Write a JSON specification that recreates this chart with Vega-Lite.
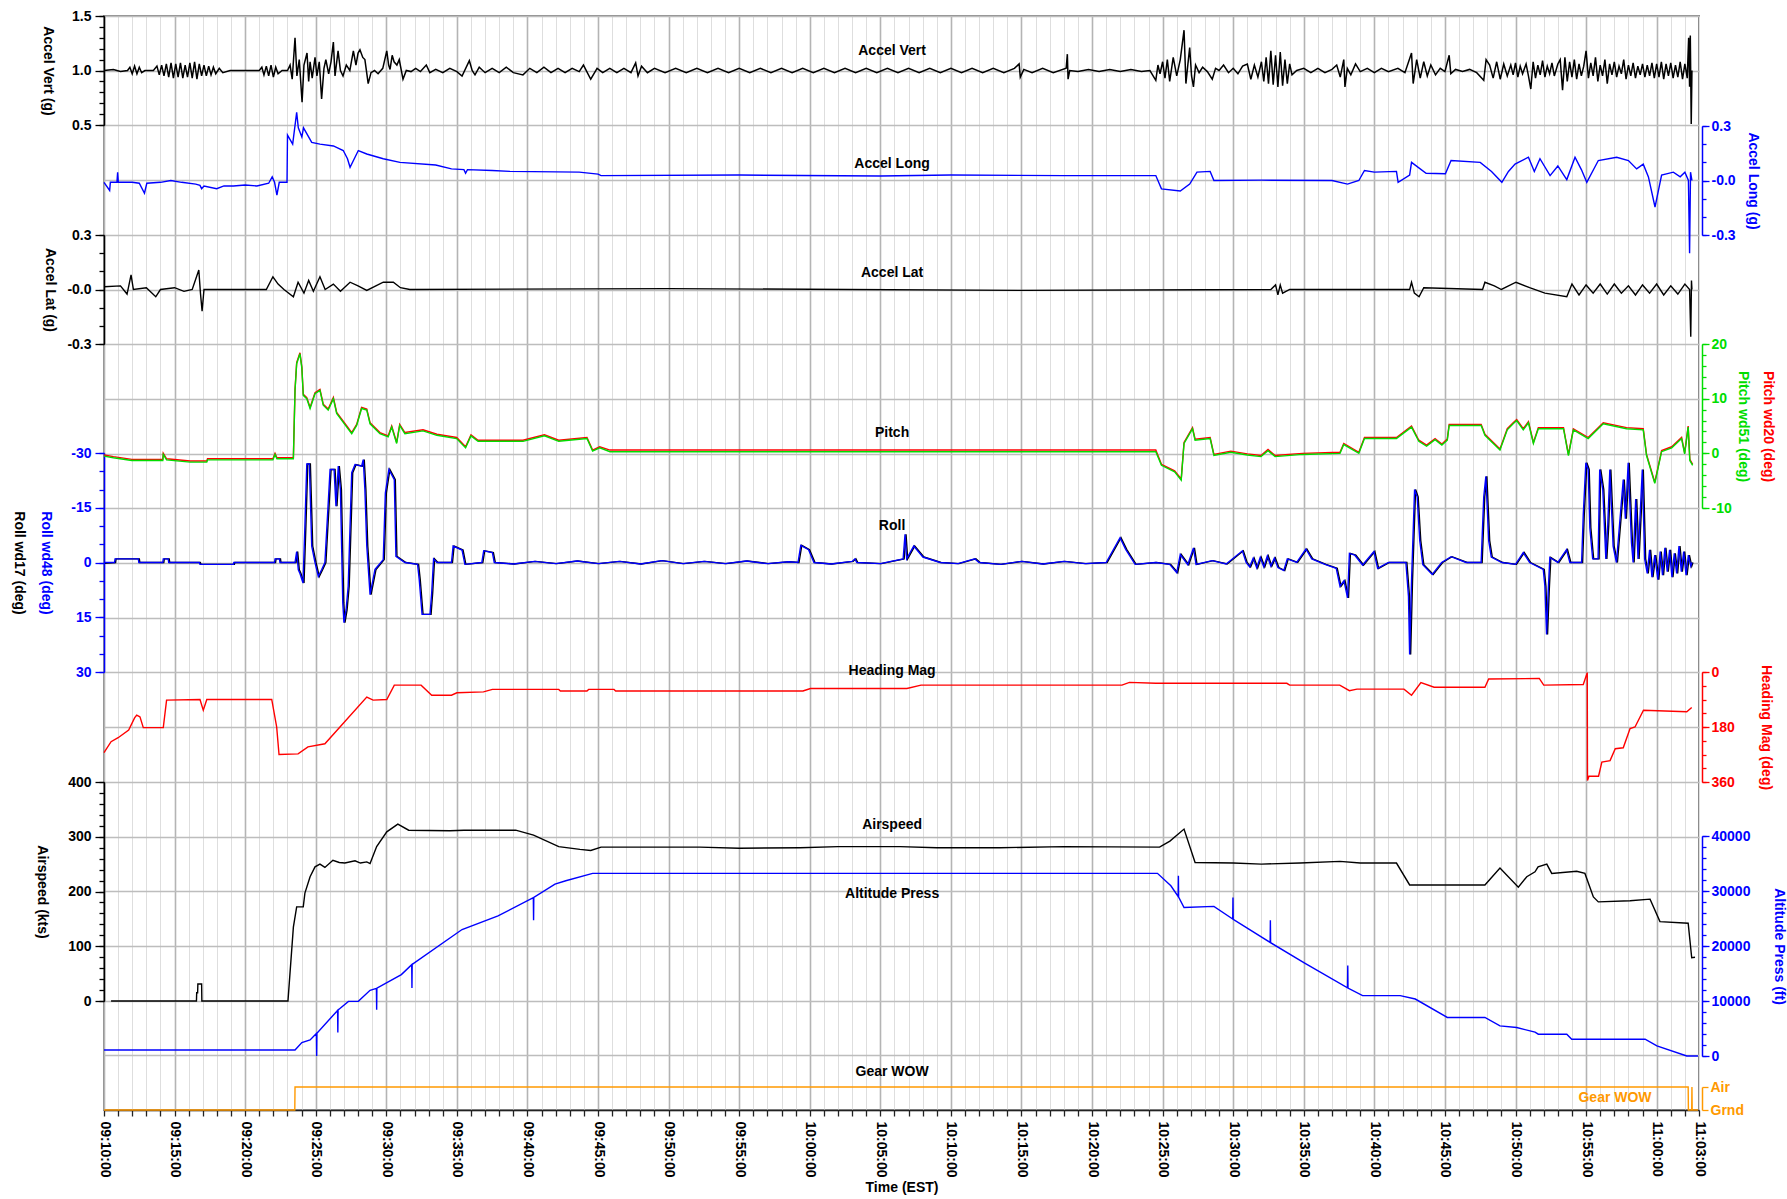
{
"$schema":"https://vega.github.io/schema/vega-lite/v6.json",
"width":1595,"height":1094,
"autosize":{"type":"none"},
"padding":{"left":104,"top":16,"right":88,"bottom":89},
"background":"white",
"config":{
 "font":"Liberation Sans",
 "view":{"stroke":"#8c8c8c","strokeWidth":2},
 "axis":{"labelFont":"Liberation Sans","labelFontWeight":"bold","labelFontSize":14,"titleFont":"Liberation Sans","titleFontWeight":"bold","titleFontSize":14,"grid":false,"labelOverlap":false,"labelFlush":false,"tickWidth":1.3,"domainWidth":1.5},
 "line":{"strokeWidth":1.4},
 "text":{"font":"Liberation Sans","fontWeight":"bold","fontSize":14,"align":"center","baseline":"middle"}
},
"encoding":{"x":{"field":"t","type":"temporal",
 "scale":{"type":"utc","nice":false},
 "axis":{"orient":"bottom","tickCount":113,
  "labelExpr":"(utcminutes(datum.value) % 5 === 0 || (utchours(datum.value) === 11 && utcminutes(datum.value) === 3)) ? utcFormat(datum.value, '%H:%M:%S') : ''",
  "labelAngle":90,"labelAlign":"left","labelBaseline":"middle","labelPadding":5,"labelColor":"#000",
  "tickSize":6,"tickColor":"#222","domainColor":"#222",
  "grid":true,
  "gridColor":{"condition":{"test":"utcminutes(datum.value) % 5 === 0","value":"#b4b4b4"},"value":"#dedede"},
  "gridWidth":{"condition":{"test":"utcminutes(datum.value) % 5 === 0","value":1.6},"value":1},
  "title":"Time (EST)","titleColor":"#000","titleY":77,"titleBaseline":"middle"}}},
"layer":[
{"data":{"values":[{"t":"09:10:00"},{"t":"11:03:00"}],"format":{"parse":{"t":"utc:'%H:%M:%S'"}}},
 "mark":{"type":"point","opacity":0},
 "encoding":{"y":{"datum":0,"type":"quantitative","scale":{"domain":[0,20],"range":[1094,0],"nice":false,"zero":false},
  "axis":{"orient":"left","values":[0,1,2,3,4,5,6,7,8,9,10,11,12,13,14,15,16,17,18,19,20],"grid":true,"gridColor":"#bdbdbd","gridWidth":1.6,"labels":false,"ticks":false,"domain":false,"title":null}}}},
{"data":{"values":[{"t":"09:10:00","v":1.0},{"t":"09:10:40","v":1.01},{"t":"09:11:10","v":0.99},{"t":"09:11:40","v":1.0},{"t":"09:11:50","v":1.03},{"t":"09:12:00","v":0.97},{"t":"09:12:10","v":1.04},{"t":"09:12:20","v":0.97},{"t":"09:12:30","v":1.03},{"t":"09:12:40","v":0.98},{"t":"09:12:54","v":1.0},{"t":"09:13:30","v":1.0},{"t":"09:13:45","v":1.04},{"t":"09:13:55","v":0.96},{"t":"09:14:05","v":1.05},{"t":"09:14:15","v":0.95},{"t":"09:14:25","v":1.06},{"t":"09:14:35","v":0.94},{"t":"09:14:45","v":1.07},{"t":"09:14:55","v":0.93},{"t":"09:15:05","v":1.06},{"t":"09:15:15","v":0.94},{"t":"09:15:25","v":1.07},{"t":"09:15:35","v":0.93},{"t":"09:15:45","v":1.05},{"t":"09:15:55","v":0.94},{"t":"09:16:05","v":1.07},{"t":"09:16:15","v":0.93},{"t":"09:16:25","v":1.08},{"t":"09:16:35","v":0.92},{"t":"09:16:45","v":1.06},{"t":"09:16:55","v":0.95},{"t":"09:17:05","v":1.05},{"t":"09:17:15","v":0.95},{"t":"09:17:25","v":1.04},{"t":"09:17:35","v":0.96},{"t":"09:17:45","v":1.03},{"t":"09:17:55","v":0.97},{"t":"09:18:10","v":1.02},{"t":"09:18:25","v":0.98},{"t":"09:18:56","v":1.0},{"t":"09:21:00","v":1.0},{"t":"09:21:11","v":1.03},{"t":"09:21:20","v":0.96},{"t":"09:21:30","v":1.04},{"t":"09:21:40","v":0.95},{"t":"09:21:50","v":1.05},{"t":"09:22:00","v":0.94},{"t":"09:22:10","v":1.03},{"t":"09:22:20","v":0.97},{"t":"09:22:37","v":1.0},{"t":"09:23:00","v":1.0},{"t":"09:23:11","v":1.05},{"t":"09:23:20","v":0.92},{"t":"09:23:32","v":1.3},{"t":"09:23:40","v":0.95},{"t":"09:23:50","v":1.1},{"t":"09:24:02","v":0.71},{"t":"09:24:10","v":1.05},{"t":"09:24:23","v":1.16},{"t":"09:24:30","v":0.9},{"t":"09:24:36","v":1.08},{"t":"09:24:45","v":0.93},{"t":"09:24:57","v":1.12},{"t":"09:25:05","v":0.95},{"t":"09:25:15","v":1.08},{"t":"09:25:25","v":0.74},{"t":"09:25:35","v":1.02},{"t":"09:25:43","v":1.1},{"t":"09:25:55","v":0.97},{"t":"09:26:05","v":1.08},{"t":"09:26:15","v":1.26},{"t":"09:26:22","v":0.95},{"t":"09:26:35","v":1.18},{"t":"09:26:45","v":1.0},{"t":"09:26:56","v":0.95},{"t":"09:27:10","v":1.05},{"t":"09:27:25","v":1.0},{"t":"09:27:40","v":1.18},{"t":"09:27:51","v":1.05},{"t":"09:28:00","v":1.16},{"t":"09:28:08","v":1.19},{"t":"09:28:20","v":1.12},{"t":"09:28:29","v":1.1},{"t":"09:28:43","v":0.88},{"t":"09:28:55","v":0.98},{"t":"09:29:10","v":1.0},{"t":"09:29:25","v":0.97},{"t":"09:29:45","v":1.02},{"t":"09:30:02","v":1.18},{"t":"09:30:10","v":1.05},{"t":"09:30:16","v":1.01},{"t":"09:30:25","v":1.14},{"t":"09:30:33","v":1.08},{"t":"09:30:45","v":1.05},{"t":"09:30:55","v":1.1},{"t":"09:31:11","v":0.92},{"t":"09:31:25","v":1.0},{"t":"09:31:45","v":0.99},{"t":"09:32:05","v":1.02},{"t":"09:32:25","v":0.99},{"t":"09:32:50","v":1.05},{"t":"09:33:05","v":0.98},{"t":"09:33:30","v":1.01},{"t":"09:34:00","v":0.98},{"t":"09:34:30","v":1.02},{"t":"09:35:00","v":0.99},{"t":"09:35:22","v":0.95},{"t":"09:35:53","v":1.09},{"t":"09:36:05","v":1.0},{"t":"09:36:17","v":0.96},{"t":"09:36:35","v":1.03},{"t":"09:37:00","v":0.98},{"t":"09:37:30","v":1.02},{"t":"09:38:00","v":0.98},{"t":"09:38:30","v":1.03},{"t":"09:39:00","v":0.98},{"t":"09:39:41","v":0.96},{"t":"09:40:10","v":1.02},{"t":"09:40:40","v":0.98},{"t":"09:41:10","v":1.03},{"t":"09:41:40","v":0.98},{"t":"09:42:10","v":1.02},{"t":"09:42:40","v":0.98},{"t":"09:43:10","v":1.02},{"t":"09:43:40","v":0.99},{"t":"09:43:58","v":1.05},{"t":"09:44:29","v":0.92},{"t":"09:44:56","v":1.02},{"t":"09:45:20","v":0.98},{"t":"09:45:50","v":1.02},{"t":"09:46:20","v":0.98},{"t":"09:46:50","v":1.02},{"t":"09:47:20","v":0.98},{"t":"09:47:40","v":1.07},{"t":"09:47:50","v":0.95},{"t":"09:48:05","v":1.04},{"t":"09:48:30","v":0.98},{"t":"09:49:00","v":1.02},{"t":"09:49:45","v":0.98},{"t":"09:50:30","v":1.02},{"t":"09:51:15","v":0.98},{"t":"09:52:00","v":1.02},{"t":"09:52:45","v":0.98},{"t":"09:53:30","v":1.02},{"t":"09:54:15","v":0.98},{"t":"09:55:00","v":1.02},{"t":"09:55:45","v":0.98},{"t":"09:56:30","v":1.02},{"t":"09:57:15","v":0.98},{"t":"09:58:00","v":1.02},{"t":"09:58:45","v":0.98},{"t":"09:59:30","v":1.02},{"t":"10:00:15","v":0.98},{"t":"10:01:00","v":1.02},{"t":"10:01:45","v":0.98},{"t":"10:02:30","v":1.02},{"t":"10:03:15","v":0.98},{"t":"10:04:00","v":1.02},{"t":"10:04:45","v":0.98},{"t":"10:05:30","v":1.02},{"t":"10:06:15","v":0.98},{"t":"10:07:00","v":1.02},{"t":"10:07:45","v":0.98},{"t":"10:08:30","v":1.02},{"t":"10:09:15","v":0.98},{"t":"10:10:00","v":1.02},{"t":"10:10:45","v":0.98},{"t":"10:11:30","v":1.02},{"t":"10:12:15","v":0.98},{"t":"10:13:00","v":1.02},{"t":"10:13:45","v":0.98},{"t":"10:14:30","v":1.02},{"t":"10:14:50","v":1.06},{"t":"10:14:55","v":0.94},{"t":"10:15:10","v":1.01},{"t":"10:15:45","v":0.98},{"t":"10:16:30","v":1.02},{"t":"10:17:15","v":0.98},{"t":"10:18:10","v":1.02},{"t":"10:18:15","v":1.15},{"t":"10:18:18","v":0.92},{"t":"10:18:25","v":1.0},{"t":"10:19:00","v":0.99},{"t":"10:19:45","v":1.01},{"t":"10:20:30","v":0.99},{"t":"10:21:15","v":1.01},{"t":"10:22:00","v":0.99},{"t":"10:22:45","v":1.01},{"t":"10:23:30","v":0.99},{"t":"10:24:06","v":1.0},{"t":"10:24:31","v":0.91},{"t":"10:24:40","v":1.05},{"t":"10:24:49","v":0.97},{"t":"10:25:00","v":1.08},{"t":"10:25:10","v":0.93},{"t":"10:25:20","v":1.1},{"t":"10:25:30","v":0.9},{"t":"10:25:45","v":1.12},{"t":"10:26:00","v":0.95},{"t":"10:26:15","v":1.1},{"t":"10:26:31","v":1.37},{"t":"10:26:39","v":0.88},{"t":"10:26:47","v":1.05},{"t":"10:26:55","v":1.21},{"t":"10:27:03","v":0.95},{"t":"10:27:11","v":0.85},{"t":"10:27:20","v":1.05},{"t":"10:27:35","v":0.98},{"t":"10:27:50","v":1.03},{"t":"10:28:10","v":0.99},{"t":"10:28:31","v":0.92},{"t":"10:28:45","v":1.02},{"t":"10:29:00","v":1.0},{"t":"10:29:19","v":1.05},{"t":"10:29:40","v":0.98},{"t":"10:30:00","v":1.02},{"t":"10:30:20","v":0.97},{"t":"10:30:40","v":1.04},{"t":"10:31:00","v":1.06},{"t":"10:31:15","v":0.92},{"t":"10:31:30","v":1.05},{"t":"10:31:45","v":0.94},{"t":"10:32:00","v":1.08},{"t":"10:32:10","v":0.9},{"t":"10:32:20","v":1.12},{"t":"10:32:30","v":0.88},{"t":"10:32:40","v":1.18},{"t":"10:32:50","v":0.87},{"t":"10:33:00","v":1.14},{"t":"10:33:10","v":0.85},{"t":"10:33:20","v":1.17},{"t":"10:33:30","v":0.86},{"t":"10:33:40","v":1.1},{"t":"10:33:50","v":0.88},{"t":"10:34:00","v":1.06},{"t":"10:34:10","v":0.96},{"t":"10:34:30","v":1.0},{"t":"10:35:00","v":1.02},{"t":"10:35:30","v":0.98},{"t":"10:36:00","v":1.02},{"t":"10:36:30","v":0.98},{"t":"10:37:00","v":1.01},{"t":"10:37:20","v":1.05},{"t":"10:37:35","v":0.94},{"t":"10:37:50","v":1.1},{"t":"10:37:55","v":0.85},{"t":"10:38:05","v":1.02},{"t":"10:38:20","v":0.96},{"t":"10:38:40","v":1.06},{"t":"10:39:00","v":0.99},{"t":"10:39:30","v":1.02},{"t":"10:40:00","v":0.98},{"t":"10:40:30","v":1.02},{"t":"10:41:00","v":0.99},{"t":"10:41:40","v":1.02},{"t":"10:42:10","v":0.98},{"t":"10:42:38","v":1.16},{"t":"10:42:45","v":0.88},{"t":"10:43:00","v":1.1},{"t":"10:43:15","v":0.93},{"t":"10:43:30","v":1.08},{"t":"10:43:45","v":0.95},{"t":"10:44:00","v":1.05},{"t":"10:44:20","v":0.96},{"t":"10:44:40","v":1.02},{"t":"10:45:00","v":0.99},{"t":"10:45:18","v":1.14},{"t":"10:45:25","v":0.97},{"t":"10:45:45","v":1.01},{"t":"10:46:15","v":0.99},{"t":"10:46:45","v":1.01},{"t":"10:47:15","v":0.98},{"t":"10:47:45","v":0.91},{"t":"10:47:55","v":1.1},{"t":"10:48:10","v":1.05},{"t":"10:48:25","v":0.93},{"t":"10:48:40","v":1.08},{"t":"10:48:55","v":0.92},{"t":"10:49:10","v":1.06},{"t":"10:49:25","v":0.95},{"t":"10:49:40","v":1.05},{"t":"10:49:50","v":0.96},{"t":"10:50:00","v":1.07},{"t":"10:50:10","v":0.94},{"t":"10:50:20","v":1.04},{"t":"10:50:30","v":0.97},{"t":"10:50:45","v":1.06},{"t":"10:50:55","v":0.95},{"t":"10:51:05","v":0.83},{"t":"10:51:15","v":1.08},{"t":"10:51:25","v":0.93},{"t":"10:51:35","v":1.05},{"t":"10:51:45","v":0.96},{"t":"10:51:55","v":1.09},{"t":"10:52:05","v":0.94},{"t":"10:52:15","v":1.04},{"t":"10:52:25","v":0.97},{"t":"10:52:35","v":1.07},{"t":"10:52:45","v":0.95},{"t":"10:53:00","v":1.06},{"t":"10:53:10","v":1.1},{"t":"10:53:20","v":0.82},{"t":"10:53:30","v":1.12},{"t":"10:53:40","v":0.9},{"t":"10:53:50","v":1.08},{"t":"10:54:00","v":0.94},{"t":"10:54:10","v":1.1},{"t":"10:54:20","v":0.92},{"t":"10:54:30","v":1.06},{"t":"10:54:40","v":0.95},{"t":"10:54:50","v":1.04},{"t":"10:55:00","v":1.18},{"t":"10:55:10","v":0.93},{"t":"10:55:20","v":1.07},{"t":"10:55:30","v":0.95},{"t":"10:55:40","v":1.12},{"t":"10:55:50","v":0.9},{"t":"10:56:00","v":1.05},{"t":"10:56:10","v":0.95},{"t":"10:56:20","v":1.1},{"t":"10:56:30","v":0.88},{"t":"10:56:40","v":1.06},{"t":"10:56:50","v":0.96},{"t":"10:57:00","v":1.08},{"t":"10:57:10","v":0.94},{"t":"10:57:20","v":1.04},{"t":"10:57:30","v":0.97},{"t":"10:57:40","v":1.1},{"t":"10:57:50","v":0.92},{"t":"10:58:00","v":1.05},{"t":"10:58:10","v":0.95},{"t":"10:58:20","v":1.07},{"t":"10:58:30","v":0.93},{"t":"10:58:40","v":1.04},{"t":"10:58:50","v":0.96},{"t":"10:59:00","v":1.06},{"t":"10:59:10","v":0.94},{"t":"10:59:20","v":1.05},{"t":"10:59:30","v":0.95},{"t":"10:59:40","v":1.07},{"t":"10:59:50","v":0.93},{"t":"11:00:00","v":1.06},{"t":"11:00:10","v":0.94},{"t":"11:00:20","v":1.08},{"t":"11:00:30","v":0.92},{"t":"11:00:40","v":1.06},{"t":"11:00:50","v":0.95},{"t":"11:01:00","v":1.07},{"t":"11:01:10","v":0.93},{"t":"11:01:20","v":1.05},{"t":"11:01:30","v":0.94},{"t":"11:01:40","v":1.08},{"t":"11:01:50","v":0.92},{"t":"11:02:00","v":1.06},{"t":"11:02:10","v":0.93},{"t":"11:02:16","v":1.3},{"t":"11:02:20","v":0.85},{"t":"11:02:23","v":1.32},{"t":"11:02:27","v":0.51},{"t":"11:02:30","v":1.0}],"format":{"parse":{"t":"utc:'%H:%M:%S'"}}},
 "mark":{"type":"line","color":"#000","strokeWidth":1.5},
 "encoding":{"y":{"field":"v","type":"quantitative","scale":{"domain":[0.5,1.5],"range":[109,0],"nice":false,"zero":false},
  "axis":{"orient":"left","values":[0.5,0.6,0.7,0.8,0.9,1.0,1.1,1.2,1.3,1.4,1.5],"labels":false,
   "tickSize":5,"tickColor":"#000","domainColor":"#000",
   "title":"Accel Vert (g)","titleColor":"#000","titleX":-57,"titleAngle":90,"titleAlign":"center","titleBaseline":"middle"}}}},
{"data":{"values":[{"t":"10:05:50","v":1.18,"label":"Accel Vert"}],"format":{"parse":{"t":"utc:'%H:%M:%S'"}}},
 "mark":{"type":"text","color":"#000"},
 "encoding":{"y":{"field":"v","type":"quantitative","scale":{"domain":[0.5,1.5],"range":[109,0],"nice":false,"zero":false},
  "axis":{"orient":"left","values":[0.5,1.0,1.5],"labelExpr":"format(datum.value,'.1f')","tickSize":9,"tickColor":"#000","domain":false,"labelColor":"#000","labelPadding":4,"title":null}},"text":{"field":"label"}}},
{"data":{"values":[{"t":"09:10:00","v":-0.01},{"t":"09:10:24","v":-0.055},{"t":"09:10:27","v":-0.01},{"t":"09:10:55","v":-0.01},{"t":"09:10:58","v":0.045},{"t":"09:11:01","v":-0.01},{"t":"09:12:00","v":-0.01},{"t":"09:12:30","v":-0.015},{"t":"09:12:52","v":-0.07},{"t":"09:13:02","v":-0.015},{"t":"09:14:00","v":-0.01},{"t":"09:14:44","v":0.0},{"t":"09:15:30","v":-0.01},{"t":"09:16:30","v":-0.02},{"t":"09:16:48","v":-0.027},{"t":"09:16:55","v":-0.045},{"t":"09:17:05","v":-0.03},{"t":"09:17:59","v":-0.045},{"t":"09:18:30","v":-0.03},{"t":"09:19:10","v":-0.03},{"t":"09:20:00","v":-0.025},{"t":"09:20:50","v":-0.03},{"t":"09:21:40","v":-0.015},{"t":"09:21:55","v":0.02},{"t":"09:22:05","v":-0.01},{"t":"09:22:15","v":-0.08},{"t":"09:22:25","v":-0.01},{"t":"09:22:58","v":-0.01},{"t":"09:23:00","v":0.25},{"t":"09:23:22","v":0.2},{"t":"09:23:39","v":0.375},{"t":"09:23:46","v":0.29},{"t":"09:24:01","v":0.24},{"t":"09:24:08","v":0.29},{"t":"09:24:43","v":0.21},{"t":"09:25:18","v":0.2},{"t":"09:26:15","v":0.19},{"t":"09:26:57","v":0.165},{"t":"09:27:15","v":0.12},{"t":"09:27:26","v":0.073},{"t":"09:28:01","v":0.165},{"t":"09:28:37","v":0.146},{"t":"09:29:47","v":0.12},{"t":"09:30:58","v":0.1},{"t":"09:33:30","v":0.085},{"t":"09:34:37","v":0.064},{"t":"09:35:30","v":0.06},{"t":"09:35:37","v":0.04},{"t":"09:35:45","v":0.06},{"t":"09:37:30","v":0.055},{"t":"09:38:45","v":0.05},{"t":"09:43:40","v":0.046},{"t":"09:45:00","v":0.035},{"t":"09:45:13","v":0.027},{"t":"09:55:00","v":0.03},{"t":"10:05:00","v":0.025},{"t":"10:10:00","v":0.03},{"t":"10:18:00","v":0.027},{"t":"10:24:31","v":0.027},{"t":"10:24:55","v":-0.046},{"t":"10:26:15","v":-0.058},{"t":"10:26:55","v":-0.02},{"t":"10:27:26","v":0.046},{"t":"10:28:22","v":0.05},{"t":"10:28:38","v":0.0},{"t":"10:32:00","v":0.002},{"t":"10:37:00","v":0.0},{"t":"10:38:06","v":-0.02},{"t":"10:38:54","v":0.0},{"t":"10:39:18","v":0.055},{"t":"10:40:00","v":0.046},{"t":"10:41:34","v":0.05},{"t":"10:41:41","v":-0.01},{"t":"10:42:30","v":0.03},{"t":"10:42:38","v":0.1},{"t":"10:43:40","v":0.04},{"t":"10:45:02","v":0.037},{"t":"10:45:26","v":0.11},{"t":"10:47:30","v":0.1},{"t":"10:48:18","v":0.05},{"t":"10:49:02","v":-0.01},{"t":"10:49:30","v":0.05},{"t":"10:49:58","v":0.09},{"t":"10:50:55","v":0.128},{"t":"10:51:20","v":0.05},{"t":"10:51:44","v":0.12},{"t":"10:52:27","v":0.027},{"t":"10:53:00","v":0.08},{"t":"10:53:38","v":0.005},{"t":"10:54:13","v":0.128},{"t":"10:54:40","v":0.06},{"t":"10:55:03","v":-0.01},{"t":"10:55:52","v":0.11},{"t":"10:57:10","v":0.128},{"t":"10:58:00","v":0.11},{"t":"10:58:35","v":0.064},{"t":"10:59:03","v":0.09},{"t":"10:59:25","v":0.02},{"t":"10:59:53","v":-0.146},{"t":"11:00:21","v":0.03},{"t":"11:01:11","v":0.046},{"t":"11:01:40","v":0.02},{"t":"11:02:00","v":0.045},{"t":"11:02:15","v":0.0},{"t":"11:02:20","v":-0.4},{"t":"11:02:24","v":0.046},{"t":"11:02:30","v":0.0}],"format":{"parse":{"t":"utc:'%H:%M:%S'"}}},
 "mark":{"type":"line","color":"#0000ff"},
 "encoding":{"y":{"field":"v","type":"quantitative","scale":{"domain":[-0.3,0.3],"range":[219,110],"nice":false,"zero":false},
  "axis":{"orient":"right","offset":3,"values":[-0.3,-0.2,-0.1,0,0.1,0.2,0.3],"labels":false,
   "tickSize":4,"tickColor":"#0000ff","domainColor":"#0000ff",
   "title":"Accel Long (g)","titleColor":"#0000ff","titleX":50,"titleAngle":90,"titleAlign":"center","titleBaseline":"middle"}}}},
{"data":{"values":[{"t":"10:05:50","v":0.093,"label":"Accel Long"}],"format":{"parse":{"t":"utc:'%H:%M:%S'"}}},
 "mark":{"type":"text","color":"#000"},
 "encoding":{"y":{"field":"v","type":"quantitative","scale":{"domain":[-0.3,0.3],"range":[219,110],"nice":false,"zero":false},
  "axis":{"orient":"right","offset":3,"values":[-0.3,0,0.3],"labelExpr":"datum.value === 0 ? '-0.0' : (datum.value < 0 ? '-0.3' : '0.3')","tickSize":7,"tickColor":"#0000ff","domain":false,"labelColor":"#0000ff","labelPadding":2,"title":null}},"text":{"field":"label"}}},
{"data":{"values":[{"t":"09:10:00","v":0.015},{"t":"09:11:10","v":0.02},{"t":"09:11:38","v":-0.025},{"t":"09:11:55","v":0.08},{"t":"09:12:05","v":0.0},{"t":"09:13:00","v":0.01},{"t":"09:13:40","v":-0.04},{"t":"09:14:00","v":0.0},{"t":"09:15:00","v":0.01},{"t":"09:15:40","v":-0.01},{"t":"09:16:15","v":0.0},{"t":"09:16:43","v":0.107},{"t":"09:16:50","v":-0.02},{"t":"09:16:57","v":-0.12},{"t":"09:17:05","v":0.0},{"t":"09:18:00","v":0.0},{"t":"09:21:30","v":0.0},{"t":"09:21:58","v":0.07},{"t":"09:22:20","v":0.03},{"t":"09:22:45","v":0.0},{"t":"09:23:25","v":-0.04},{"t":"09:23:45","v":0.04},{"t":"09:24:10","v":-0.02},{"t":"09:24:30","v":0.05},{"t":"09:24:50","v":-0.01},{"t":"09:25:18","v":0.07},{"t":"09:25:40","v":0.0},{"t":"09:26:15","v":0.03},{"t":"09:26:45","v":-0.01},{"t":"09:27:26","v":0.04},{"t":"09:28:00","v":0.02},{"t":"09:28:37","v":-0.005},{"t":"09:29:47","v":0.04},{"t":"09:30:30","v":0.04},{"t":"09:31:00","v":0.01},{"t":"09:31:40","v":0.0},{"t":"09:50:00","v":0.005},{"t":"10:15:00","v":-0.005},{"t":"10:32:40","v":0.0},{"t":"10:33:00","v":0.025},{"t":"10:33:10","v":-0.03},{"t":"10:33:20","v":0.025},{"t":"10:33:30","v":-0.02},{"t":"10:34:00","v":0.0},{"t":"10:42:30","v":0.0},{"t":"10:42:38","v":0.04},{"t":"10:42:50","v":-0.02},{"t":"10:43:10","v":-0.04},{"t":"10:43:30","v":0.01},{"t":"10:47:40","v":0.0},{"t":"10:47:50","v":0.04},{"t":"10:48:30","v":0.02},{"t":"10:49:00","v":0.0},{"t":"10:50:02","v":0.04},{"t":"10:51:00","v":0.01},{"t":"10:52:05","v":-0.02},{"t":"10:53:38","v":-0.04},{"t":"10:54:00","v":0.03},{"t":"10:54:30","v":-0.03},{"t":"10:55:00","v":0.025},{"t":"10:55:30","v":-0.02},{"t":"10:56:00","v":0.03},{"t":"10:56:30","v":-0.025},{"t":"10:57:00","v":0.03},{"t":"10:57:30","v":-0.02},{"t":"10:58:00","v":0.02},{"t":"10:58:30","v":-0.03},{"t":"10:59:00","v":0.025},{"t":"10:59:30","v":-0.02},{"t":"11:00:00","v":0.03},{"t":"11:00:30","v":-0.03},{"t":"11:01:00","v":0.02},{"t":"11:01:30","v":-0.025},{"t":"11:02:00","v":0.03},{"t":"11:02:20","v":0.0},{"t":"11:02:25","v":-0.26},{"t":"11:02:28","v":0.05},{"t":"11:02:30","v":0.0}],"format":{"parse":{"t":"utc:'%H:%M:%S'"}}},
 "mark":{"type":"line","color":"#000"},
 "encoding":{"y":{"field":"v","type":"quantitative","scale":{"domain":[-0.3,0.3],"range":[328,219],"nice":false,"zero":false},
  "axis":{"orient":"left","values":[-0.3,-0.2,-0.1,0,0.1,0.2,0.3],"labels":false,
   "tickSize":5,"tickColor":"#000","domainColor":"#000",
   "title":"Accel Lat (g)","titleColor":"#000","titleX":-55,"titleAngle":90,"titleAlign":"center","titleBaseline":"middle"}}}},
{"data":{"values":[{"t":"10:05:50","v":0.09,"label":"Accel Lat"}],"format":{"parse":{"t":"utc:'%H:%M:%S'"}}},
 "mark":{"type":"text","color":"#000"},
 "encoding":{"y":{"field":"v","type":"quantitative","scale":{"domain":[-0.3,0.3],"range":[328,219],"nice":false,"zero":false},
  "axis":{"orient":"left","values":[-0.3,0,0.3],"labelExpr":"datum.value === 0 ? '-0.0' : (datum.value < 0 ? '-0.3' : '0.3')","tickSize":9,"tickColor":"#000","domain":false,"labelColor":"#000","labelPadding":4,"title":null}},"text":{"field":"label"}}},
{"data":{"values":[{"t":"09:10:00","v":-0.3},{"t":"09:10:40","v":-0.6},{"t":"09:11:58","v":-1.1},{"t":"09:14:10","v":-1.1},{"t":"09:14:12","v":0.0},{"t":"09:14:26","v":-1.0},{"t":"09:16:06","v":-1.4},{"t":"09:17:17","v":-1.4},{"t":"09:17:20","v":-1.0},{"t":"09:21:58","v":-1.0},{"t":"09:22:07","v":0.0},{"t":"09:22:15","v":-0.8},{"t":"09:23:25","v":-0.8},{"t":"09:23:32","v":11.7},{"t":"09:23:39","v":16.6},{"t":"09:23:53","v":18.4},{"t":"09:24:01","v":15.8},{"t":"09:24:07","v":10.8},{"t":"09:24:22","v":10.2},{"t":"09:24:36","v":8.4},{"t":"09:24:57","v":11.1},{"t":"09:25:18","v":11.7},{"t":"09:25:32","v":9.0},{"t":"09:25:53","v":8.1},{"t":"09:26:15","v":10.2},{"t":"09:26:29","v":7.5},{"t":"09:27:12","v":5.0},{"t":"09:27:33","v":3.8},{"t":"09:27:54","v":5.3},{"t":"09:28:15","v":8.4},{"t":"09:28:37","v":8.1},{"t":"09:28:51","v":5.6},{"t":"09:29:33","v":3.8},{"t":"09:30:08","v":3.2},{"t":"09:30:23","v":5.0},{"t":"09:30:44","v":2.0},{"t":"09:30:57","v":5.3},{"t":"09:31:19","v":3.8},{"t":"09:32:36","v":4.3},{"t":"09:33:35","v":3.5},{"t":"09:34:59","v":2.9},{"t":"09:35:37","v":1.2},{"t":"09:36:00","v":3.4},{"t":"09:36:30","v":2.4},{"t":"09:39:41","v":2.4},{"t":"09:41:12","v":3.4},{"t":"09:42:13","v":2.4},{"t":"09:44:13","v":2.9},{"t":"09:44:37","v":0.6},{"t":"09:45:07","v":1.2},{"t":"09:45:51","v":0.6},{"t":"10:24:31","v":0.6},{"t":"10:24:55","v":-2.0},{"t":"10:25:51","v":-3.2},{"t":"10:26:19","v":-4.7},{"t":"10:26:31","v":2.0},{"t":"10:26:55","v":3.8},{"t":"10:27:07","v":4.7},{"t":"10:27:18","v":2.6},{"t":"10:28:22","v":2.9},{"t":"10:28:38","v":-0.2},{"t":"10:29:50","v":0.4},{"t":"10:31:00","v":-0.1},{"t":"10:31:58","v":-0.4},{"t":"10:32:28","v":0.7},{"t":"10:32:58","v":-0.4},{"t":"10:34:55","v":0.0},{"t":"10:37:34","v":0.2},{"t":"10:37:50","v":1.8},{"t":"10:38:54","v":0.2},{"t":"10:39:18","v":2.9},{"t":"10:41:34","v":2.9},{"t":"10:42:38","v":5.0},{"t":"10:43:09","v":2.4},{"t":"10:43:42","v":1.5},{"t":"10:44:18","v":2.7},{"t":"10:44:47","v":1.7},{"t":"10:45:10","v":2.6},{"t":"10:45:18","v":5.3},{"t":"10:47:34","v":5.3},{"t":"10:47:50","v":3.5},{"t":"10:48:54","v":0.8},{"t":"10:49:25","v":4.5},{"t":"10:49:50","v":5.6},{"t":"10:50:05","v":6.2},{"t":"10:50:33","v":4.5},{"t":"10:50:55","v":5.8},{"t":"10:51:16","v":2.0},{"t":"10:51:37","v":4.7},{"t":"10:53:24","v":4.7},{"t":"10:53:45","v":-0.2},{"t":"10:54:06","v":4.5},{"t":"10:55:09","v":2.9},{"t":"10:56:13","v":5.6},{"t":"10:57:52","v":4.7},{"t":"10:59:03","v":4.5},{"t":"10:59:17","v":-0.2},{"t":"10:59:52","v":-5.3},{"t":"11:00:21","v":0.5},{"t":"11:01:04","v":1.2},{"t":"11:01:46","v":2.9},{"t":"11:01:59","v":0.1},{"t":"11:02:14","v":5.0},{"t":"11:02:21","v":-1.1},{"t":"11:02:33","v":-2.0}],"format":{"parse":{"t":"utc:'%H:%M:%S'"}}},
 "mark":{"type":"line","color":"#ff0000"},
 "encoding":{"y":{"field":"v","type":"quantitative","scale":{"domain":[-10,20],"range":[492,328],"nice":false,"zero":false},
  "axis":{"orient":"right","offset":3,"labels":false,"ticks":false,"domain":false,
   "title":"Pitch wd20 (deg)","titleColor":"#ff0000","titleX":65,"titleAngle":90,"titleAlign":"center","titleBaseline":"middle"}}}},
{"data":{"values":[{"t":"09:10:00","v":-0.5},{"t":"09:10:40","v":-0.8},{"t":"09:11:58","v":-1.3},{"t":"09:14:10","v":-1.3},{"t":"09:14:12","v":-0.2},{"t":"09:14:26","v":-1.2},{"t":"09:16:06","v":-1.6},{"t":"09:17:17","v":-1.6},{"t":"09:17:20","v":-1.2},{"t":"09:21:58","v":-1.2},{"t":"09:22:07","v":-0.2},{"t":"09:22:15","v":-1.0},{"t":"09:23:25","v":-1.0},{"t":"09:23:32","v":11.5},{"t":"09:23:39","v":16.4},{"t":"09:23:53","v":18.2},{"t":"09:24:01","v":15.6},{"t":"09:24:07","v":10.6},{"t":"09:24:22","v":10.0},{"t":"09:24:36","v":8.2},{"t":"09:24:57","v":10.9},{"t":"09:25:18","v":11.5},{"t":"09:25:32","v":8.8},{"t":"09:25:53","v":7.9},{"t":"09:26:15","v":10.0},{"t":"09:26:29","v":7.3},{"t":"09:27:12","v":4.8},{"t":"09:27:33","v":3.6},{"t":"09:27:54","v":5.1},{"t":"09:28:15","v":8.2},{"t":"09:28:37","v":7.9},{"t":"09:28:51","v":5.4},{"t":"09:29:33","v":3.6},{"t":"09:30:08","v":3.0},{"t":"09:30:23","v":4.8},{"t":"09:30:44","v":1.8},{"t":"09:30:57","v":5.1},{"t":"09:31:19","v":3.6},{"t":"09:32:36","v":4.1},{"t":"09:33:35","v":3.3},{"t":"09:34:59","v":2.7},{"t":"09:35:37","v":1.0},{"t":"09:36:00","v":3.2},{"t":"09:36:30","v":2.2},{"t":"09:39:41","v":2.2},{"t":"09:41:12","v":3.2},{"t":"09:42:13","v":2.2},{"t":"09:44:13","v":2.7},{"t":"09:44:37","v":0.4},{"t":"09:45:07","v":1.0},{"t":"09:45:51","v":0.3},{"t":"10:24:31","v":0.3},{"t":"10:24:55","v":-2.2},{"t":"10:25:51","v":-3.4},{"t":"10:26:19","v":-4.9},{"t":"10:26:31","v":1.8},{"t":"10:26:55","v":3.6},{"t":"10:27:07","v":4.5},{"t":"10:27:18","v":2.4},{"t":"10:28:22","v":2.7},{"t":"10:28:38","v":-0.4},{"t":"10:29:50","v":0.2},{"t":"10:31:00","v":-0.3},{"t":"10:31:58","v":-0.6},{"t":"10:32:28","v":0.5},{"t":"10:32:58","v":-0.6},{"t":"10:34:55","v":-0.2},{"t":"10:37:34","v":0},{"t":"10:37:50","v":1.6},{"t":"10:38:54","v":0},{"t":"10:39:18","v":2.7},{"t":"10:41:34","v":2.7},{"t":"10:42:38","v":4.8},{"t":"10:43:09","v":2.2},{"t":"10:43:42","v":1.3},{"t":"10:44:18","v":2.5},{"t":"10:44:47","v":1.5},{"t":"10:45:10","v":2.4},{"t":"10:45:18","v":5.1},{"t":"10:47:34","v":5.1},{"t":"10:47:50","v":3.3},{"t":"10:48:54","v":0.6},{"t":"10:49:25","v":4.3},{"t":"10:49:50","v":5.4},{"t":"10:50:05","v":6.0},{"t":"10:50:33","v":4.3},{"t":"10:50:55","v":5.6},{"t":"10:51:16","v":1.8},{"t":"10:51:37","v":4.5},{"t":"10:53:24","v":4.5},{"t":"10:53:45","v":-0.4},{"t":"10:54:06","v":4.3},{"t":"10:55:09","v":2.7},{"t":"10:56:13","v":5.4},{"t":"10:57:52","v":4.5},{"t":"10:59:03","v":4.3},{"t":"10:59:17","v":-0.4},{"t":"10:59:52","v":-5.5},{"t":"11:00:21","v":0.3},{"t":"11:01:04","v":1.0},{"t":"11:01:46","v":2.7},{"t":"11:01:59","v":-0.1},{"t":"11:02:14","v":4.8},{"t":"11:02:21","v":-1.3},{"t":"11:02:33","v":-2.2}],"format":{"parse":{"t":"utc:'%H:%M:%S'"}}},
 "mark":{"type":"line","color":"#00dd00"},
 "encoding":{"y":{"field":"v","type":"quantitative","scale":{"domain":[-10,20],"range":[492,328],"nice":false,"zero":false},
  "axis":{"orient":"right","offset":3,"values":[-10,-8,-6,-4,-2,0,2,4,6,8,10,12,14,16,18,20],"labels":false,
   "tickSize":4,"tickColor":"#00dd00","domainColor":"#00dd00",
   "title":"Pitch wd51 (deg)","titleColor":"#00dd00","titleX":40,"titleAngle":90,"titleAlign":"center","titleBaseline":"middle"}}}},
{"data":{"values":[{"t":"10:05:50","v":3.8,"label":"Pitch"}],"format":{"parse":{"t":"utc:'%H:%M:%S'"}}},
 "mark":{"type":"text","color":"#000"},
 "encoding":{"y":{"field":"v","type":"quantitative","scale":{"domain":[-10,20],"range":[492,328],"nice":false,"zero":false},
  "axis":{"orient":"right","offset":3,"values":[-10,0,10,20],"labelExpr":"'' + datum.value","tickSize":7,"tickColor":"#00dd00","domain":false,"labelColor":"#00dd00","labelPadding":2,"title":null}},"text":{"field":"label"}}},
{"data":{"values":[{"t":"09:10:00","v":0.2},{"t":"09:10:45","v":0},{"t":"09:10:47","v":-1},{"t":"09:12:26","v":-1},{"t":"09:12:28","v":0},{"t":"09:14:10","v":0},{"t":"09:14:12","v":-1},{"t":"09:14:33","v":-1},{"t":"09:14:35","v":0},{"t":"09:16:45","v":0},{"t":"09:16:48","v":0.5},{"t":"09:19:10","v":0.5},{"t":"09:19:12","v":0},{"t":"09:22:05","v":0},{"t":"09:22:07","v":-1},{"t":"09:22:26","v":-1},{"t":"09:22:28","v":0},{"t":"09:23:32","v":0},{"t":"09:23:39","v":-3},{"t":"09:23:46","v":2},{"t":"09:23:53","v":3},{"t":"09:24:06","v":5.6},{"t":"09:24:14","v":-10},{"t":"09:24:22","v":-27},{"t":"09:24:33","v":-27},{"t":"09:24:43","v":-4.5},{"t":"09:24:57","v":0},{"t":"09:25:11","v":3.8},{"t":"09:25:25","v":2},{"t":"09:25:39","v":0},{"t":"09:25:52","v":-15},{"t":"09:26:01","v":-25.5},{"t":"09:26:18","v":-25.5},{"t":"09:26:26","v":-15.4},{"t":"09:26:36","v":-26.4},{"t":"09:26:45","v":-20},{"t":"09:26:55","v":11},{"t":"09:27:00","v":16.5},{"t":"09:27:09","v":13},{"t":"09:27:18","v":6.5},{"t":"09:27:33","v":-24.6},{"t":"09:27:47","v":-26.8},{"t":"09:28:15","v":-26.4},{"t":"09:28:22","v":-28.2},{"t":"09:28:29","v":-20},{"t":"09:28:37","v":-4.5},{"t":"09:28:51","v":8.8},{"t":"09:29:12","v":1.9},{"t":"09:29:47","v":-0.8},{"t":"09:29:56","v":-19},{"t":"09:30:11","v":-25.5},{"t":"09:30:34","v":-22.7},{"t":"09:30:41","v":-1.7},{"t":"09:31:19","v":0},{"t":"09:32:13","v":0.5},{"t":"09:32:20","v":4.7},{"t":"09:32:32","v":14.2},{"t":"09:33:06","v":14.2},{"t":"09:33:13","v":8.3},{"t":"09:33:21","v":-1},{"t":"09:33:35","v":0},{"t":"09:34:37","v":0},{"t":"09:34:44","v":-4.5},{"t":"09:35:22","v":-3.4},{"t":"09:35:34","v":0.5},{"t":"09:36:46","v":0},{"t":"09:36:54","v":-3.2},{"t":"09:37:31","v":-2.7},{"t":"09:37:39","v":0},{"t":"09:39:00","v":0.4},{"t":"09:40:30","v":-0.3},{"t":"09:42:00","v":0.3},{"t":"09:43:30","v":-0.4},{"t":"09:45:00","v":0.3},{"t":"09:46:30","v":-0.3},{"t":"09:48:00","v":0.4},{"t":"09:49:30","v":-0.5},{"t":"09:51:00","v":0.3},{"t":"09:52:30","v":-0.3},{"t":"09:54:00","v":0.3},{"t":"09:55:30","v":-0.4},{"t":"09:57:00","v":0.3},{"t":"09:58:30","v":-0.2},{"t":"09:59:10","v":0},{"t":"09:59:22","v":-4.7},{"t":"09:59:55","v":-3.5},{"t":"10:00:18","v":0},{"t":"10:01:30","v":0.4},{"t":"10:03:00","v":-0.3},{"t":"10:03:12","v":-1},{"t":"10:03:20","v":0},{"t":"10:05:00","v":0.3},{"t":"10:06:37","v":-1},{"t":"10:06:45","v":-7.7},{"t":"10:06:52","v":-1},{"t":"10:07:22","v":-4.5},{"t":"10:08:01","v":-1.5},{"t":"10:09:14","v":0},{"t":"10:10:30","v":0.3},{"t":"10:11:42","v":-1},{"t":"10:12:00","v":0},{"t":"10:13:30","v":0.5},{"t":"10:15:00","v":-0.3},{"t":"10:16:30","v":0.4},{"t":"10:18:00","v":-0.3},{"t":"10:19:30","v":0.3},{"t":"10:21:00","v":0},{"t":"10:21:59","v":-6.8},{"t":"10:22:23","v":-3.6},{"t":"10:23:03","v":0.5},{"t":"10:24:30","v":0},{"t":"10:25:30","v":0.5},{"t":"10:26:00","v":2.8},{"t":"10:26:15","v":-2.2},{"t":"10:26:47","v":0.6},{"t":"10:27:11","v":-4},{"t":"10:27:22","v":0.5},{"t":"10:28:30","v":-0.5},{"t":"10:29:30","v":0.4},{"t":"10:30:39","v":-3.2},{"t":"10:30:55","v":0},{"t":"10:31:10","v":1.2},{"t":"10:31:25","v":-1.2},{"t":"10:31:40","v":1.5},{"t":"10:31:55","v":-1.4},{"t":"10:32:10","v":1.2},{"t":"10:32:25","v":-1.8},{"t":"10:32:40","v":1},{"t":"10:32:55","v":-1.2},{"t":"10:33:10","v":1.4},{"t":"10:33:35","v":2.2},{"t":"10:33:50","v":-1},{"t":"10:34:30","v":0},{"t":"10:35:09","v":-3.7},{"t":"10:35:34","v":-1},{"t":"10:36:30","v":0.5},{"t":"10:37:18","v":1.6},{"t":"10:37:34","v":6.5},{"t":"10:37:51","v":5},{"t":"10:38:06","v":9.7},{"t":"10:38:14","v":-2.5},{"t":"10:38:37","v":-2},{"t":"10:39:10","v":0.7},{"t":"10:39:58","v":-3},{"t":"10:40:14","v":1.6},{"t":"10:41:00","v":0},{"t":"10:42:14","v":0},{"t":"10:42:25","v":9.2},{"t":"10:42:30","v":25.2},{"t":"10:42:38","v":5},{"t":"10:42:51","v":-20},{"t":"10:43:02","v":-18},{"t":"10:43:13","v":-6},{"t":"10:43:26","v":0.6},{"t":"10:44:06","v":3.3},{"t":"10:44:46","v":0},{"t":"10:45:26","v":-1.6},{"t":"10:46:30","v":0},{"t":"10:47:34","v":0},{"t":"10:47:45","v":-18},{"t":"10:47:54","v":-23.6},{"t":"10:48:06","v":-6},{"t":"10:48:17","v":-1.5},{"t":"10:49:02","v":0},{"t":"10:50:00","v":0.5},{"t":"10:50:33","v":-2.7},{"t":"10:51:00","v":0},{"t":"10:51:58","v":1.9},{"t":"10:52:05","v":6.5},{"t":"10:52:12","v":19.7},{"t":"10:52:19","v":7.9},{"t":"10:52:26","v":-1.4},{"t":"10:53:00","v":0},{"t":"10:53:37","v":-3.5},{"t":"10:53:51","v":0},{"t":"10:54:41","v":0},{"t":"10:54:48","v":-13},{"t":"10:54:59","v":-27.3},{"t":"10:55:09","v":-25.5},{"t":"10:55:16","v":-9.5},{"t":"10:55:28","v":-1},{"t":"10:55:51","v":-1},{"t":"10:55:58","v":-25.5},{"t":"10:56:11","v":-20},{"t":"10:56:24","v":-1},{"t":"10:56:32","v":-10},{"t":"10:56:41","v":-25.5},{"t":"10:56:55","v":-4.5},{"t":"10:57:09","v":0},{"t":"10:57:38","v":-22.7},{"t":"10:57:47","v":-12},{"t":"10:57:59","v":-27.3},{"t":"10:58:13","v":-5.4},{"t":"10:58:20","v":0},{"t":"10:58:31","v":-17.4},{"t":"10:58:41","v":-1},{"t":"10:58:59","v":-25.5},{"t":"10:59:09","v":-1},{"t":"10:59:20","v":3},{"t":"10:59:30","v":-3.5},{"t":"10:59:40","v":4},{"t":"10:59:52","v":-2},{"t":"11:00:05","v":4.7},{"t":"11:00:15","v":-3},{"t":"11:00:25","v":3.5},{"t":"11:00:35","v":-4},{"t":"11:00:45","v":2.5},{"t":"11:00:55","v":-3.5},{"t":"11:01:05","v":4},{"t":"11:01:15","v":-2.5},{"t":"11:01:25","v":3},{"t":"11:01:35","v":-4.5},{"t":"11:01:45","v":2.5},{"t":"11:01:55","v":-3},{"t":"11:02:05","v":3.5},{"t":"11:02:15","v":-2},{"t":"11:02:25","v":1},{"t":"11:02:30","v":0}],"format":{"parse":{"t":"utc:'%H:%M:%S'"}}},
 "mark":{"type":"line","color":"#000","xOffset":1},
 "encoding":{"y":{"field":"v","type":"quantitative","scale":{"domain":[-30,30],"range":[437,656],"nice":false,"zero":false},
  "axis":{"orient":"left","labels":false,"ticks":false,"domain":false,
   "title":"Roll wd17 (deg)","titleColor":"#000","titleX":-86,"titleAngle":90,"titleAlign":"center","titleBaseline":"middle"}}}},
{"data":{"values":[{"t":"09:10:00","v":0},{"t":"09:10:45","v":0},{"t":"09:10:47","v":-1},{"t":"09:12:26","v":-1},{"t":"09:12:28","v":0},{"t":"09:14:10","v":0},{"t":"09:14:12","v":-1},{"t":"09:14:33","v":-1},{"t":"09:14:35","v":0},{"t":"09:16:45","v":0},{"t":"09:16:48","v":0.5},{"t":"09:19:10","v":0.5},{"t":"09:19:12","v":0},{"t":"09:22:05","v":0},{"t":"09:22:07","v":-1},{"t":"09:22:26","v":-1},{"t":"09:22:28","v":0},{"t":"09:23:32","v":0},{"t":"09:23:39","v":-3},{"t":"09:23:46","v":2},{"t":"09:23:53","v":3},{"t":"09:24:06","v":5.6},{"t":"09:24:14","v":-10},{"t":"09:24:22","v":-27},{"t":"09:24:33","v":-27},{"t":"09:24:43","v":-4.5},{"t":"09:24:57","v":0},{"t":"09:25:11","v":3.8},{"t":"09:25:25","v":2},{"t":"09:25:39","v":0},{"t":"09:25:52","v":-15},{"t":"09:26:01","v":-25.5},{"t":"09:26:18","v":-25.5},{"t":"09:26:26","v":-15.4},{"t":"09:26:36","v":-26.4},{"t":"09:26:45","v":-20},{"t":"09:26:55","v":11},{"t":"09:27:00","v":16.5},{"t":"09:27:09","v":13},{"t":"09:27:18","v":6.5},{"t":"09:27:33","v":-24.6},{"t":"09:27:47","v":-26.8},{"t":"09:28:15","v":-26.4},{"t":"09:28:22","v":-28.2},{"t":"09:28:29","v":-20},{"t":"09:28:37","v":-4.5},{"t":"09:28:51","v":8.8},{"t":"09:29:12","v":1.9},{"t":"09:29:47","v":-0.8},{"t":"09:29:56","v":-19},{"t":"09:30:11","v":-25.5},{"t":"09:30:34","v":-22.7},{"t":"09:30:41","v":-1.7},{"t":"09:31:19","v":0},{"t":"09:32:13","v":0.5},{"t":"09:32:20","v":4.7},{"t":"09:32:32","v":14.2},{"t":"09:33:06","v":14.2},{"t":"09:33:13","v":8.3},{"t":"09:33:21","v":-1},{"t":"09:33:35","v":0},{"t":"09:34:37","v":0},{"t":"09:34:44","v":-4.5},{"t":"09:35:22","v":-3.4},{"t":"09:35:34","v":0.5},{"t":"09:36:46","v":0},{"t":"09:36:54","v":-3.2},{"t":"09:37:31","v":-2.7},{"t":"09:37:39","v":0},{"t":"09:39:00","v":0.4},{"t":"09:40:30","v":-0.3},{"t":"09:42:00","v":0.3},{"t":"09:43:30","v":-0.4},{"t":"09:45:00","v":0.3},{"t":"09:46:30","v":-0.3},{"t":"09:48:00","v":0.4},{"t":"09:49:30","v":-0.5},{"t":"09:51:00","v":0.3},{"t":"09:52:30","v":-0.3},{"t":"09:54:00","v":0.3},{"t":"09:55:30","v":-0.4},{"t":"09:57:00","v":0.3},{"t":"09:58:30","v":-0.2},{"t":"09:59:10","v":0},{"t":"09:59:22","v":-4.7},{"t":"09:59:55","v":-3.5},{"t":"10:00:18","v":0},{"t":"10:01:30","v":0.4},{"t":"10:03:00","v":-0.3},{"t":"10:03:12","v":-1},{"t":"10:03:20","v":0},{"t":"10:05:00","v":0.3},{"t":"10:06:37","v":-1},{"t":"10:06:45","v":-7.7},{"t":"10:06:52","v":-1},{"t":"10:07:22","v":-4.5},{"t":"10:08:01","v":-1.5},{"t":"10:09:14","v":0},{"t":"10:10:30","v":0.3},{"t":"10:11:42","v":-1},{"t":"10:12:00","v":0},{"t":"10:13:30","v":0.5},{"t":"10:15:00","v":-0.3},{"t":"10:16:30","v":0.4},{"t":"10:18:00","v":-0.3},{"t":"10:19:30","v":0.3},{"t":"10:21:00","v":0},{"t":"10:21:59","v":-6.8},{"t":"10:22:23","v":-3.6},{"t":"10:23:03","v":0.5},{"t":"10:24:30","v":0},{"t":"10:25:30","v":0.5},{"t":"10:26:00","v":2.8},{"t":"10:26:15","v":-2.2},{"t":"10:26:47","v":0.6},{"t":"10:27:11","v":-4},{"t":"10:27:22","v":0.5},{"t":"10:28:30","v":-0.5},{"t":"10:29:30","v":0.4},{"t":"10:30:39","v":-3.2},{"t":"10:30:55","v":0},{"t":"10:31:10","v":1.2},{"t":"10:31:25","v":-1.2},{"t":"10:31:40","v":1.5},{"t":"10:31:55","v":-1.4},{"t":"10:32:10","v":1.2},{"t":"10:32:25","v":-1.8},{"t":"10:32:40","v":1},{"t":"10:32:55","v":-1.2},{"t":"10:33:10","v":1.4},{"t":"10:33:35","v":2.2},{"t":"10:33:50","v":-1},{"t":"10:34:30","v":0},{"t":"10:35:09","v":-3.7},{"t":"10:35:34","v":-1},{"t":"10:36:30","v":0.5},{"t":"10:37:18","v":1.6},{"t":"10:37:34","v":6.5},{"t":"10:37:51","v":5},{"t":"10:38:06","v":9.7},{"t":"10:38:14","v":-2.5},{"t":"10:38:37","v":-2},{"t":"10:39:10","v":0.7},{"t":"10:39:58","v":-3},{"t":"10:40:14","v":1.6},{"t":"10:41:00","v":0},{"t":"10:42:14","v":0},{"t":"10:42:25","v":9.2},{"t":"10:42:30","v":25.2},{"t":"10:42:38","v":5},{"t":"10:42:51","v":-20},{"t":"10:43:02","v":-18},{"t":"10:43:13","v":-6},{"t":"10:43:26","v":0.6},{"t":"10:44:06","v":3.3},{"t":"10:44:46","v":0},{"t":"10:45:26","v":-1.6},{"t":"10:46:30","v":0},{"t":"10:47:34","v":0},{"t":"10:47:45","v":-18},{"t":"10:47:54","v":-23.6},{"t":"10:48:06","v":-6},{"t":"10:48:17","v":-1.5},{"t":"10:49:02","v":0},{"t":"10:50:00","v":0.5},{"t":"10:50:33","v":-2.7},{"t":"10:51:00","v":0},{"t":"10:51:58","v":1.9},{"t":"10:52:05","v":6.5},{"t":"10:52:12","v":19.7},{"t":"10:52:19","v":7.9},{"t":"10:52:26","v":-1.4},{"t":"10:53:00","v":0},{"t":"10:53:37","v":-3.5},{"t":"10:53:51","v":0},{"t":"10:54:41","v":0},{"t":"10:54:48","v":-13},{"t":"10:54:59","v":-27.3},{"t":"10:55:09","v":-25.5},{"t":"10:55:16","v":-9.5},{"t":"10:55:28","v":-1},{"t":"10:55:51","v":-1},{"t":"10:55:58","v":-25.5},{"t":"10:56:11","v":-20},{"t":"10:56:24","v":-1},{"t":"10:56:32","v":-10},{"t":"10:56:41","v":-25.5},{"t":"10:56:55","v":-4.5},{"t":"10:57:09","v":0},{"t":"10:57:38","v":-22.7},{"t":"10:57:47","v":-12},{"t":"10:57:59","v":-27.3},{"t":"10:58:13","v":-5.4},{"t":"10:58:20","v":0},{"t":"10:58:31","v":-17.4},{"t":"10:58:41","v":-1},{"t":"10:58:59","v":-25.5},{"t":"10:59:09","v":-1},{"t":"10:59:20","v":3},{"t":"10:59:30","v":-3.5},{"t":"10:59:40","v":4},{"t":"10:59:52","v":-2},{"t":"11:00:05","v":4.7},{"t":"11:00:15","v":-3},{"t":"11:00:25","v":3.5},{"t":"11:00:35","v":-4},{"t":"11:00:45","v":2.5},{"t":"11:00:55","v":-3.5},{"t":"11:01:05","v":4},{"t":"11:01:15","v":-2.5},{"t":"11:01:25","v":3},{"t":"11:01:35","v":-4.5},{"t":"11:01:45","v":2.5},{"t":"11:01:55","v":-3},{"t":"11:02:05","v":3.5},{"t":"11:02:15","v":-2},{"t":"11:02:25","v":1},{"t":"11:02:30","v":0}],"format":{"parse":{"t":"utc:'%H:%M:%S'"}}},
 "mark":{"type":"line","color":"#0000ff"},
 "encoding":{"y":{"field":"v","type":"quantitative","scale":{"domain":[-30,30],"range":[437,656],"nice":false,"zero":false},
  "axis":{"orient":"left","values":[-30,-25,-20,-15,-10,-5,0,5,10,15,20,25,30],"labels":false,
   "tickSize":5,"tickColor":"#0000ff","domainColor":"#0000ff",
   "title":"Roll wd48 (deg)","titleColor":"#0000ff","titleX":-59,"titleAngle":90,"titleAlign":"center","titleBaseline":"middle"}}}},
{"data":{"values":[{"t":"10:05:50","v":-9.9,"label":"Roll"}],"format":{"parse":{"t":"utc:'%H:%M:%S'"}}},
 "mark":{"type":"text","color":"#000"},
 "encoding":{"y":{"field":"v","type":"quantitative","scale":{"domain":[-30,30],"range":[437,656],"nice":false,"zero":false},
  "axis":{"orient":"left","values":[-30,-15,0,15,30],"labelExpr":"'' + datum.value","tickSize":9,"tickColor":"#0000ff","domain":false,"labelColor":"#0000ff","labelPadding":4,"title":null}},"text":{"field":"label"}}},
{"data":{"values":[{"t":"09:10:00","v":264},{"t":"09:10:30","v":228},{"t":"09:11:00","v":215},{"t":"09:11:45","v":190},{"t":"09:12:10","v":150},{"t":"09:12:19","v":141},{"t":"09:12:29","v":145},{"t":"09:12:33","v":147},{"t":"09:12:47","v":182},{"t":"09:14:12","v":182},{"t":"09:14:26","v":92},{"t":"09:16:48","v":90},{"t":"09:17:02","v":125},{"t":"09:17:17","v":90},{"t":"09:21:53","v":90},{"t":"09:22:14","v":180},{"t":"09:22:24","v":270},{"t":"09:23:45","v":268},{"t":"09:24:27","v":245},{"t":"09:25:39","v":235},{"t":"09:26:43","v":180},{"t":"09:28:37","v":82},{"t":"09:29:04","v":92},{"t":"09:30:02","v":90},{"t":"09:30:34","v":43},{"t":"09:32:28","v":43},{"t":"09:33:13","v":76},{"t":"09:34:37","v":76},{"t":"09:35:00","v":68},{"t":"09:36:53","v":65},{"t":"09:37:31","v":57},{"t":"09:42:13","v":57},{"t":"09:42:20","v":62},{"t":"09:44:13","v":62},{"t":"09:44:20","v":57},{"t":"09:46:08","v":57},{"t":"09:46:15","v":62},{"t":"09:59:31","v":62},{"t":"10:00:03","v":54},{"t":"10:06:53","v":54},{"t":"10:07:53","v":43},{"t":"10:22:07","v":43},{"t":"10:22:39","v":34},{"t":"10:24:31","v":37},{"t":"10:33:48","v":37},{"t":"10:34:00","v":43},{"t":"10:37:33","v":43},{"t":"10:38:14","v":61},{"t":"10:38:46","v":56},{"t":"10:42:06","v":56},{"t":"10:42:38","v":76},{"t":"10:43:18","v":35},{"t":"10:44:14","v":50},{"t":"10:47:50","v":50},{"t":"10:48:06","v":23},{"t":"10:51:41","v":21},{"t":"10:52:00","v":43},{"t":"10:54:48","v":41},{"t":"10:55:05","v":2},{"t":"10:55:06","v":355},{"t":"10:55:12","v":341},{"t":"10:55:53","v":341},{"t":"10:56:07","v":295},{"t":"10:56:42","v":290},{"t":"10:57:04","v":251},{"t":"10:57:38","v":248},{"t":"10:58:07","v":185},{"t":"10:58:28","v":180},{"t":"10:59:04","v":125},{"t":"11:02:08","v":130},{"t":"11:02:29","v":116}],"format":{"parse":{"t":"utc:'%H:%M:%S'"}}},
 "mark":{"type":"line","color":"#ff0000"},
 "encoding":{"y":{"field":"v","type":"quantitative","scale":{"domain":[0,360],"range":[656,766],"nice":false,"zero":false},
  "axis":{"orient":"right","offset":3,"values":[0,45,90,135,180,225,270,315,360],"labels":false,
   "tickSize":4,"tickColor":"#ff0000","domainColor":"#ff0000",
   "title":"Heading Mag (deg)","titleColor":"#ff0000","titleX":63,"titleAngle":90,"titleAlign":"center","titleBaseline":"middle"}}}},
{"data":{"values":[{"t":"10:05:50","v":-3,"label":"Heading Mag"}],"format":{"parse":{"t":"utc:'%H:%M:%S'"}}},
 "mark":{"type":"text","color":"#000"},
 "encoding":{"y":{"field":"v","type":"quantitative","scale":{"domain":[0,360],"range":[656,766],"nice":false,"zero":false},
  "axis":{"orient":"right","offset":3,"values":[0,180,360],"labelExpr":"'' + datum.value","tickSize":7,"tickColor":"#ff0000","domain":false,"labelColor":"#ff0000","labelPadding":2,"title":null}},"text":{"field":"label"}}},
{"data":{"values":[{"t":"09:10:30","v":0},{"t":"09:16:33","v":0},{"t":"09:16:34","v":15},{"t":"09:16:38","v":15},{"t":"09:16:39","v":31},{"t":"09:16:55","v":31},{"t":"09:16:56","v":0},{"t":"09:23:02","v":0},{"t":"09:23:25","v":135},{"t":"09:23:39","v":172},{"t":"09:24:07","v":172},{"t":"09:24:14","v":197},{"t":"09:24:36","v":227},{"t":"09:24:57","v":245},{"t":"09:25:18","v":250},{"t":"09:25:39","v":244},{"t":"09:26:13","v":257},{"t":"09:26:40","v":253},{"t":"09:27:04","v":252},{"t":"09:27:47","v":256},{"t":"09:28:10","v":252},{"t":"09:28:37","v":254},{"t":"09:28:51","v":251},{"t":"09:29:19","v":282},{"t":"09:30:02","v":309},{"t":"09:30:49","v":323},{"t":"09:31:35","v":312},{"t":"09:34:30","v":311},{"t":"09:35:30","v":312},{"t":"09:39:10","v":312},{"t":"09:40:26","v":303},{"t":"09:42:13","v":282},{"t":"09:43:43","v":277},{"t":"09:44:29","v":275},{"t":"09:45:13","v":281},{"t":"09:52:13","v":281},{"t":"09:55:00","v":279},{"t":"09:59:18","v":280},{"t":"10:02:00","v":282},{"t":"10:06:24","v":282},{"t":"10:09:00","v":280},{"t":"10:13:29","v":280},{"t":"10:18:00","v":282},{"t":"10:24:47","v":281},{"t":"10:25:31","v":292},{"t":"10:26:31","v":314},{"t":"10:27:18","v":253},{"t":"10:30:00","v":252},{"t":"10:32:00","v":250},{"t":"10:34:44","v":252},{"t":"10:37:34","v":255},{"t":"10:39:00","v":252},{"t":"10:41:34","v":252},{"t":"10:42:30","v":212},{"t":"10:45:00","v":212},{"t":"10:47:50","v":212},{"t":"10:48:54","v":243},{"t":"10:50:12","v":208},{"t":"10:50:48","v":227},{"t":"10:51:23","v":236},{"t":"10:51:36","v":245},{"t":"10:52:13","v":250},{"t":"10:52:34","v":233},{"t":"10:54:20","v":237},{"t":"10:54:55","v":233},{"t":"10:55:31","v":190},{"t":"10:55:52","v":181},{"t":"10:58:07","v":183},{"t":"10:59:32","v":186},{"t":"11:00:14","v":145},{"t":"11:02:14","v":142},{"t":"11:02:29","v":79},{"t":"11:02:43","v":80}],"format":{"parse":{"t":"utc:'%H:%M:%S'"}}},
 "mark":{"type":"line","color":"#000"},
 "encoding":{"y":{"field":"v","type":"quantitative","scale":{"domain":[0,400],"range":[985,766],"nice":false,"zero":false},
  "axis":{"orient":"left","values":[0,20,40,60,80,100,120,140,160,180,200,220,240,260,280,300,320,340,360,380,400],"labels":false,
   "tickSize":5,"tickColor":"#000","domainColor":"#000",
   "title":"Airspeed (kts)","titleColor":"#000","titleX":-63,"titleAngle":90,"titleAlign":"center","titleBaseline":"middle"}}}},
{"data":{"values":[{"t":"10:05:50","v":321,"label":"Airspeed"}],"format":{"parse":{"t":"utc:'%H:%M:%S'"}}},
 "mark":{"type":"text","color":"#000"},
 "encoding":{"y":{"field":"v","type":"quantitative","scale":{"domain":[0,400],"range":[985,766],"nice":false,"zero":false},
  "axis":{"orient":"left","values":[0,100,200,300,400],"labelExpr":"'' + datum.value","tickSize":9,"tickColor":"#000","domain":false,"labelColor":"#000","labelPadding":4,"title":null}},"text":{"field":"label"}}},
{"data":{"values":[{"t":"09:10:00","v":1100},{"t":"09:23:32","v":1100},{"t":"09:24:01","v":2430},{"t":"09:24:36","v":2925},{"t":"09:25:03","v":4100},{"t":"09:25:04","v":0},{"t":"09:25:05","v":4150},{"t":"09:26:29","v":8100},{"t":"09:26:33","v":8300},{"t":"09:26:34","v":4260},{"t":"09:26:35","v":8350},{"t":"09:27:19","v":9930},{"t":"09:28:01","v":9930},{"t":"09:28:51","v":11940},{"t":"09:29:18","v":12300},{"t":"09:29:19","v":8400},{"t":"09:29:20","v":12350},{"t":"09:31:04","v":14800},{"t":"09:31:48","v":16600},{"t":"09:31:49","v":12370},{"t":"09:31:50","v":16650},{"t":"09:35:22","v":23000},{"t":"09:37:55","v":25470},{"t":"09:40:25","v":28800},{"t":"09:40:26","v":24680},{"t":"09:40:27","v":28850},{"t":"09:41:57","v":31260},{"t":"09:42:43","v":31870},{"t":"09:44:37","v":33210},{"t":"10:24:38","v":33210},{"t":"10:25:35","v":30950},{"t":"10:26:06","v":29000},{"t":"10:26:07","v":32780},{"t":"10:26:08","v":28900},{"t":"10:26:31","v":27000},{"t":"10:28:38","v":27200},{"t":"10:29:58","v":24900},{"t":"10:29:59","v":28830},{"t":"10:30:00","v":24850},{"t":"10:32:37","v":20650},{"t":"10:32:38","v":24680},{"t":"10:32:39","v":20600},{"t":"10:35:02","v":16950},{"t":"10:38:06","v":12400},{"t":"10:38:07","v":16450},{"t":"10:38:08","v":12350},{"t":"10:39:10","v":10970},{"t":"10:41:50","v":10970},{"t":"10:42:54","v":10360},{"t":"10:45:10","v":7010},{"t":"10:47:50","v":7000},{"t":"10:48:54","v":5480},{"t":"10:50:05","v":5180},{"t":"10:51:23","v":4330},{"t":"10:51:37","v":3960},{"t":"10:53:38","v":3960},{"t":"10:53:59","v":3050},{"t":"10:59:11","v":3050},{"t":"11:00:01","v":1830},{"t":"11:02:08","v":0},{"t":"11:02:56","v":0}],"format":{"parse":{"t":"utc:'%H:%M:%S'"}}},
 "mark":{"type":"line","color":"#0000ff"},
 "encoding":{"y":{"field":"v","type":"quantitative","scale":{"domain":[0,40000],"range":[1040,820],"nice":false,"zero":false},
  "axis":{"orient":"right","offset":3,"values":[0,2000,4000,6000,8000,10000,12000,14000,16000,18000,20000,22000,24000,26000,28000,30000,32000,34000,36000,38000,40000],"labels":false,
   "tickSize":4,"tickColor":"#0000ff","domainColor":"#0000ff",
   "title":"Altitude Press (ft)","titleColor":"#0000ff","titleX":76,"titleAngle":90,"titleAlign":"center","titleBaseline":"middle"}}}},
{"data":{"values":[{"t":"10:05:50","v":29400,"label":"Altitude Press"}],"format":{"parse":{"t":"utc:'%H:%M:%S'"}}},
 "mark":{"type":"text","color":"#000"},
 "encoding":{"y":{"field":"v","type":"quantitative","scale":{"domain":[0,40000],"range":[1040,820],"nice":false,"zero":false},
  "axis":{"orient":"right","offset":3,"values":[0,10000,20000,30000,40000],"labelExpr":"'' + datum.value","tickSize":7,"tickColor":"#0000ff","domain":false,"labelColor":"#0000ff","labelPadding":2,"title":null}},"text":{"field":"label"}}},
{"data":{"values":[{"t":"09:10:00","v":0},{"t":"09:23:31","v":0},{"t":"09:23:32","v":1},{"t":"11:02:14","v":1},{"t":"11:02:15","v":0},{"t":"11:02:29","v":0},{"t":"11:02:30","v":1},{"t":"11:02:31","v":0},{"t":"11:02:56","v":0}],"format":{"parse":{"t":"utc:'%H:%M:%S'"}}},
 "mark":{"type":"line","color":"#ff9900"},
 "encoding":{"y":{"field":"v","type":"quantitative","scale":{"domain":[0,1],"range":[1094,1071],"nice":false,"zero":false},
  "axis":{"orient":"right","offset":3,"values":[0,1],
   "labelExpr":"datum.value === 1 ? 'Air' : 'Grnd'",
   "tickSize":6,"tickColor":"#ff9900","domainColor":"#ff9900","labelColor":"#ff9900","labelPadding":2,"title":null}}}},
{"data":{"values":[{"t":"10:05:50","v":1.65,"label":"Gear WOW"}],"format":{"parse":{"t":"utc:'%H:%M:%S'"}}},
 "mark":{"type":"text","color":"#000"},
 "encoding":{"y":{"field":"v","type":"quantitative","scale":{"domain":[0,1],"range":[1094,1071],"nice":false,"zero":false},"axis":null},"text":{"field":"label"}}},
{"data":{"values":[{"t":"10:57:03","v":0.52,"label":"Gear WOW"}],"format":{"parse":{"t":"utc:'%H:%M:%S'"}}},
 "mark":{"type":"text","color":"#ff9900"},
 "encoding":{"y":{"field":"v","type":"quantitative","scale":{"domain":[0,1],"range":[1094,1071],"nice":false,"zero":false},"axis":null},"text":{"field":"label"}}}
],
"resolve":{"scale":{"y":"independent"},"axis":{"y":"independent"}}
}
